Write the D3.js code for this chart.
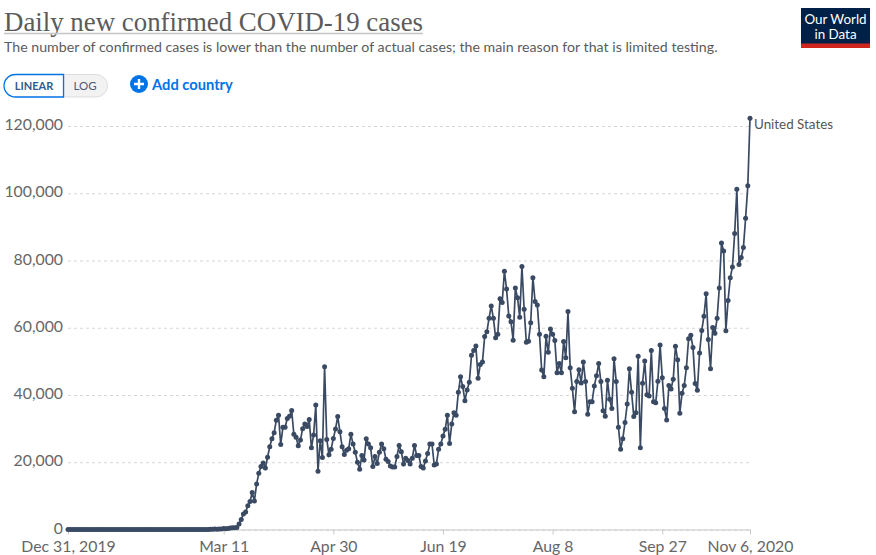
<!DOCTYPE html>
<html>
<head>
<meta charset="utf-8">
<script src="https://cdn.jsdelivr.net/npm/d3@7/dist/d3.min.js"></script>
<style>
    html, body { margin: 0; padding: 0; background: #fff; }
    svg { display: block; font-family: Lato, sans-serif; }
</style>
</head>
<body>
<div id="chart"></div>
<script>
// Chart text
var titleText = "Daily new confirmed COVID-19 cases";
var subtitleText = "The number of confirmed cases is lower than the number of actual cases; the main reason for that is limited testing.";
var seriesName = "United States";

// Axis ticks
var yTicks = [0, 20000, 40000, 60000, 80000, 100000, 120000];
var xTickDates = ["2019-12-31", "2020-03-11", "2020-04-30", "2020-06-19", "2020-08-08", "2020-09-27", "2020-11-06"];
var xTickLabels = ["Dec 31, 2019", "Mar 11", "Apr 30", "Jun 19", "Aug 8", "Sep 27", "Nov 6, 2020"];

// Daily new cases, one value per day from Dec 31, 2019
var startDate = "2019-12-31";
var dailyCases = [
    0, 0, 0, 0, 0, 0, 0, 0, 0, 0,
    0, 0, 0, 0, 0, 0, 0, 0, 0, 0,
    0, 1, 0, 1, 0, 1, 0, 2, 0, 0,
    1, 0, 1, 2, 0, 0, 0, 0, 0, 0,
    0, 1, 0, 0, 0, 0, 0, 0, 0, 0,
    0, 0, 10, 0, 1, 0, 0, 3, 10, 2,
    6, 10, 20, 30, 25, 70, 90, 120, 110, 130,
    180, 270, 250, 330, 450, 550, 550, 600, 1600, 3000,
    4600, 5200, 7100, 8300, 11000, 8500, 13500, 16700, 18700, 19800,
    18300, 21500, 24600, 27000, 28800, 32500, 34000, 25300, 30400, 30400,
    33000, 33700, 35400, 28300, 27400, 24900, 26600, 30000, 31400, 30600,
    32700, 24300, 28100, 37000, 17300, 26400, 21400, 48400, 26800, 22200,
    23900, 27100, 29900, 33600, 29100, 24600, 22300, 23600, 24000, 28300,
    25400, 23000, 20000, 17900, 22000, 20700, 27000, 25400, 24300, 18700,
    21700, 19600, 23000, 25400, 24000, 20900, 20200, 18900, 18600, 18600,
    21700, 25000, 23100, 19500, 21200, 20500, 19500, 21200, 25000, 22000,
    22000, 18700, 18300, 20400, 22600, 25400, 25400, 19200, 19500, 23900,
    25400, 27800, 29800, 34000, 25600, 31400, 34700, 34000, 40800, 45400,
    42500, 38300, 41500, 43800, 51800, 53200, 54600, 45000, 49100, 49800,
    57400, 58800, 62800, 66500, 62800, 57000, 58100, 68600, 67500, 76800,
    71500, 63500, 61800, 56300, 71800, 68900, 63100, 78200, 65500, 55700,
    56000, 61500, 74900, 67800, 66800, 58100, 47400, 45400, 57500, 52700,
    59600, 58100, 56200, 46600, 49400, 46600, 55900, 51100, 64800, 48100,
    42000, 35000, 44000, 47500, 43600, 49800, 44000, 34300, 38000, 38000,
    42700, 45700, 49400, 44000, 35300, 33700, 44400, 38700, 36000, 50800,
    44000, 30400, 23900, 27000, 31800, 37300, 47800, 40800, 33600, 34700,
    51500, 24300, 43500, 50100, 40100, 39700, 53200, 38000, 37700, 44100,
    54900, 45100, 36000, 32600, 42800, 41800, 44700, 54500, 50500, 34600,
    40500, 42800, 48100, 56700, 57800, 54100, 43400, 41400, 52500, 59200,
    63400, 70100, 56500, 47800, 60100, 58400, 62800, 71800, 85200, 82800,
    59100, 68100, 74900, 78100, 88000, 101200, 78800, 80900, 83900, 92600,
    102200, 122300
];

// Define SVG area dimensions
var svgWidth = 876;
var svgHeight = 555;
var plot = { left: 68, right: 750, top: 126, bottom: 529.5 };

var parseDay = d3.utcParse("%Y-%m-%d");
var firstDay = parseDay(startDate);
var points = dailyCases.map(function (v, i) {
    return { date: d3.utcDay.offset(firstDay, i), value: v };
});

var svg = d3.select("#chart")
    .append("svg")
    .attr("width", svgWidth)
    .attr("height", svgHeight);

// Title and subtitle
svg.append("text")
    .attr("x", 4)
    .attr("y", 31)
    .attr("textLength", 419)
    .attr("lengthAdjust", "spacingAndGlyphs")
    .style("font-family", "'Liberation Serif', serif")
    .style("font-size", "28px")
    .style("fill", "#5b5b5b")
    .text(titleText);
svg.append("line")
    .attr("x1", 4).attr("x2", 423)
    .attr("y1", 33.5).attr("y2", 33.5)
    .style("stroke", "#c4c4c4")
    .style("stroke-width", 1.5);
svg.append("text")
    .attr("x", 4)
    .attr("y", 52)
    .style("font-size", "14.2px")
    .style("fill", "#5b5b5b")
    .text(subtitleText);

// Our World in Data logo
var logo = svg.append("g");
logo.append("rect").attr("x", 801).attr("y", 8).attr("width", 69).attr("height", 40).style("fill", "#002147");
logo.append("rect").attr("x", 801).attr("y", 43.5).attr("width", 69).attr("height", 4.5).style("fill", "#ce261e");
logo.selectAll("text")
    .data(["Our World", "in Data"])
    .enter()
    .append("text")
    .attr("x", 835.5)
    .attr("y", function (d, i) { return 24 + i * 15; })
    .style("text-anchor", "middle")
    .style("font-size", "13.4px")
    .style("fill", "#fff")
    .text(function (d) { return d; });

// Linear / log toggle
svg.append("path")
    .attr("d", "M64,74.5 H96 a11.5,11.25 0 0 1 0,22.5 H64 Z")
    .style("fill", "#f2f2f2")
    .style("stroke", "#dcdde0");
svg.append("path")
    .attr("d", "M63.5,74.5 H15.5 a11.5,11.25 0 0 0 0,22.5 H63.5 Z")
    .style("fill", "#fff")
    .style("stroke", "#0073e6")
    .style("stroke-width", 1.3);
svg.append("text")
    .attr("x", 34).attr("y", 90)
    .style("text-anchor", "middle")
    .style("font-size", "11px")
    .style("font-weight", 700)
    .style("fill", "#2f5b8f")
    .text("LINEAR");
svg.append("text")
    .attr("x", 85).attr("y", 90)
    .style("text-anchor", "middle")
    .style("font-size", "11.5px")
    .style("fill", "#4a5b75")
    .text("LOG");

// Add country button
svg.append("circle").attr("cx", 139).attr("cy", 84).attr("r", 9).style("fill", "#0073e6");
svg.append("path")
    .attr("d", "M134,84 H144 M139,79 V89")
    .style("stroke", "#fff")
    .style("stroke-width", 2.4);
svg.append("text")
    .attr("x", 152).attr("y", 90)
    .style("font-size", "14.7px")
    .style("font-weight", 700)
    .style("fill", "#0073e6")
    .text("Add country");

// Create scales
var xScale = d3.scaleUtc()
    .domain([firstDay, points[points.length - 1].date])
    .range([plot.left, plot.right]);
var yScale = d3.scaleLinear()
    .domain([0, 120000])
    .range([plot.bottom, plot.top]);

// Y axis with dashed grid lines
var leftAxis = d3.axisLeft(yScale)
    .tickValues(yTicks)
    .tickFormat(d3.format(","))
    .tickSizeInner(-(plot.right - plot.left))
    .tickSizeOuter(0)
    .tickPadding(5);
var yGroup = svg.append("g")
    .attr("transform", "translate(" + plot.left + ",0)")
    .call(leftAxis);
yGroup.select(".domain").remove();
yGroup.selectAll("line")
    .style("stroke", "#d6d6d6")
    .style("stroke-dasharray", "3,3");
yGroup.selectAll("text")
    .attr("y", -1.5)
    .style("font-family", "Lato, sans-serif")
    .style("font-size", "15.8px")
    .style("fill", "#666");

// X axis
var tickDays = xTickDates.map(parseDay);
var bottomAxis = d3.axisBottom(xScale)
    .tickValues(tickDays)
    .tickFormat(function (d, i) { return xTickLabels[i]; })
    .tickSizeInner(5)
    .tickSizeOuter(0)
    .tickPadding(6);
var xGroup = svg.append("g")
    .attr("transform", "translate(0," + plot.bottom + ")")
    .call(bottomAxis);
xGroup.select(".domain").style("stroke", "#c8c8c8").style("stroke-width", 1);
xGroup.selectAll("line").style("stroke", "#c8c8c8");
xGroup.selectAll("text")
    .style("font-family", "Lato, sans-serif")
    .style("font-size", "15.8px")
    .style("fill", "#666");

// Series line and points
var line = d3.line()
    .x(function (d) { return xScale(d.date); })
    .y(function (d) { return yScale(d.value); });
svg.append("path")
    .datum(points)
    .attr("d", line)
    .style("fill", "none")
    .style("stroke", "#3a4a63")
    .style("stroke-width", 1.7);
svg.append("g")
    .selectAll("circle")
    .data(points)
    .enter()
    .append("circle")
    .attr("cx", function (d) { return xScale(d.date); })
    .attr("cy", function (d) { return yScale(d.value); })
    .attr("r", 2.5)
    .style("fill", "#3a4a63");

// Series label
svg.append("text")
    .attr("x", 754)
    .attr("y", 129)
    .style("font-size", "13.4px")
    .style("fill", "#555")
    .text(seriesName);
</script>
</body>
</html>
